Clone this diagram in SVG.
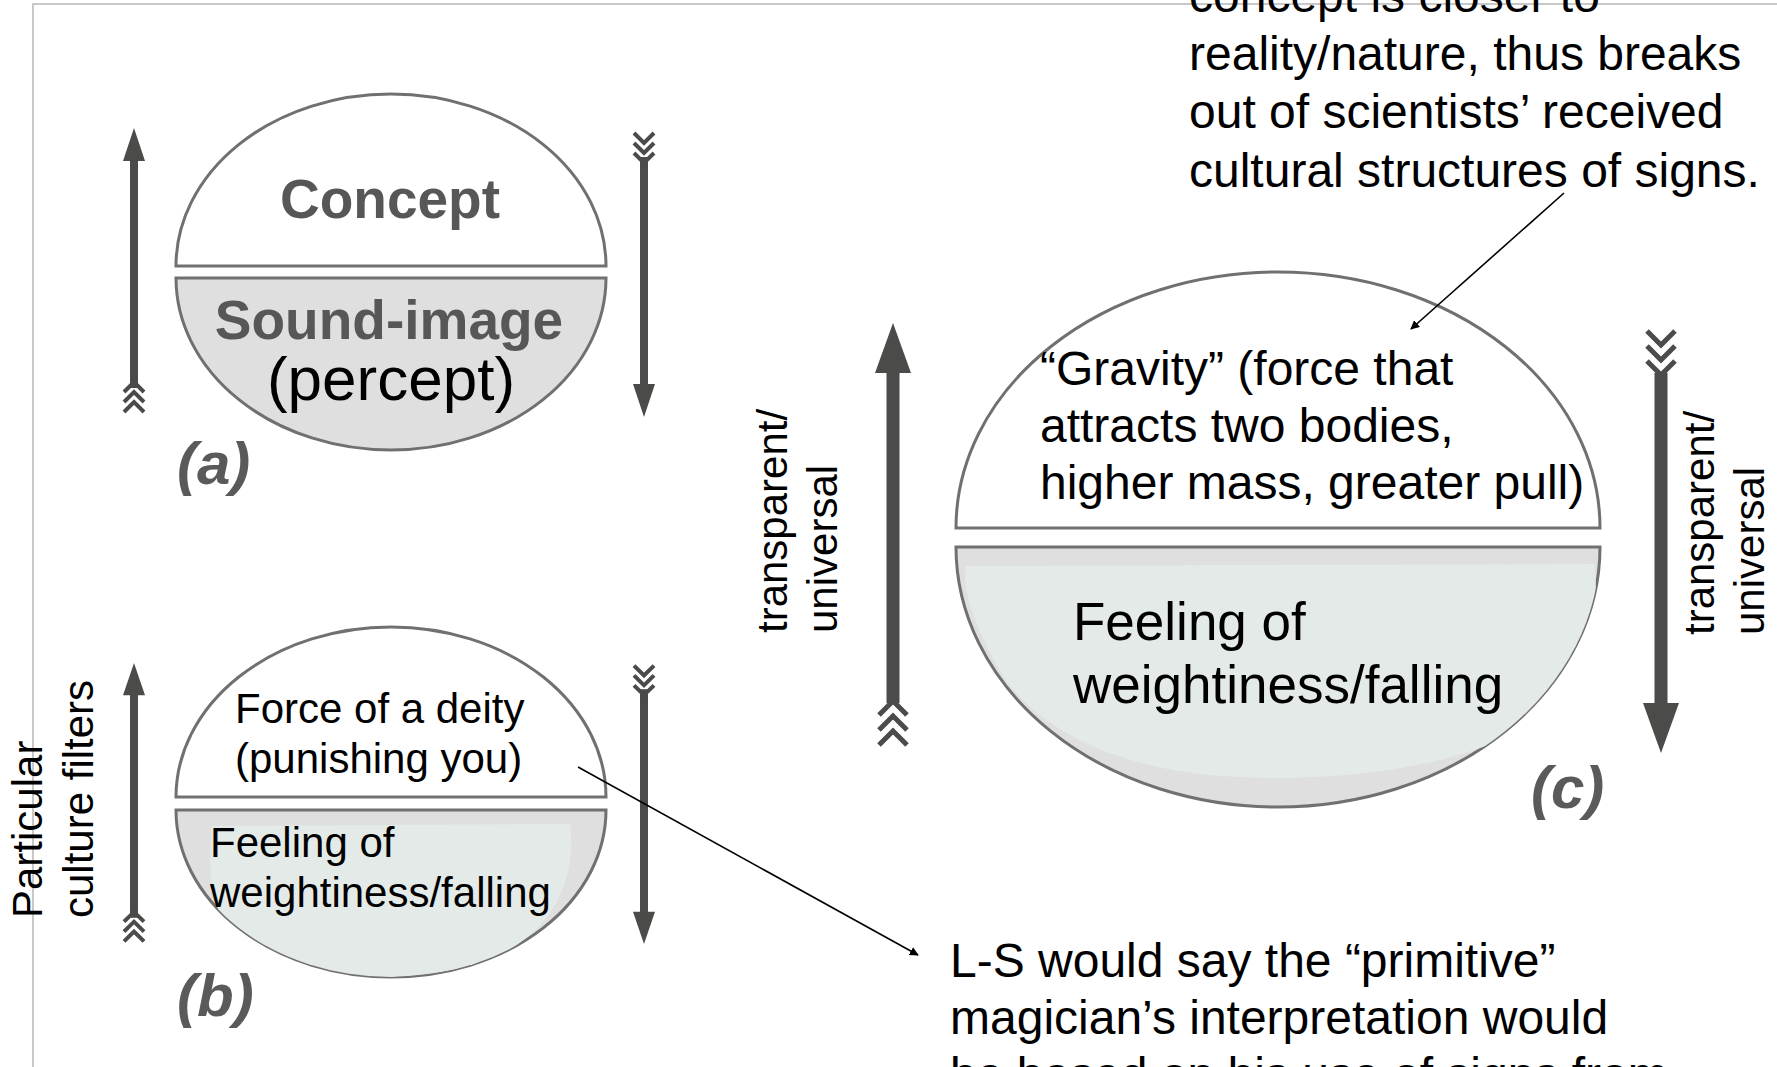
<svg xmlns="http://www.w3.org/2000/svg" xmlns:xlink="http://www.w3.org/1999/xlink" width="1777" height="1067" viewBox="0 0 1777 1067">
<style>
  text { font-family: "Liberation Sans", Arial, sans-serif; fill: #000; }
  .t42 { font-size: 42px; }
  .t48 { font-size: 48px; }
  .t53 { font-size: 53px; }
  .orig { font-weight: bold; fill: #575757; font-size: 55px; }
  .tag { font-weight: bold; font-style: italic; fill: #5a5a5a; font-size: 60px; }
  .upper { fill: #ffffff; stroke: #707070; stroke-width: 3; }
  .lower { fill: #dfdfdf; stroke: #707070; stroke-width: 3; }
  .blob { fill: #e3eae8; stroke: none; }
  .arw { fill: #4b4b49; }
  .fth { fill: none; stroke: #4b4b49; stroke-width: 4; }
  .fthL { fill: none; stroke: #4b4b49; stroke-width: 5; }
  .conn { stroke: #000; stroke-width: 1.6; fill: none; }
  .frame { stroke: #c8c8c8; stroke-width: 2; fill: none; }
</style>
<defs>
  <marker id="ah" viewBox="0 0 10 10" refX="9" refY="5" markerWidth="9" markerHeight="9" markerUnits="userSpaceOnUse" orient="auto">
    <path d="M0,0 L10,5 L0,10 Z" fill="#000"/>
  </marker>
  <g id="arrowS">
    <path class="arw" d="M0,0 L11,33 L-11,33 Z"/>
    <rect class="arw" x="-4" y="30" width="8" height="230"/>
    <path class="fth" d="M-10,264 L0,254 L10,264 M-10,274 L0,264 L10,274 M-10,284 L0,274 L10,284"/>
  </g>
  <g id="arrowL">
    <path class="arw" d="M0,0 L18,50 L-18,50 Z"/>
    <rect class="arw" x="-6.5" y="46" width="13" height="334"/>
    <path class="fthL" d="M-14,392 L0,378 L14,392 M-14,407 L0,393 L14,407 M-14,422 L0,408 L14,422"/>
  </g>
  <clipPath id="clipB"><path d="M176,810 L606,810 A215,167 0 0 1 176,810 Z"/></clipPath>
  <clipPath id="clipC"><path d="M956,547 L1600,547 A322,260 0 0 1 956,547 Z"/></clipPath>
</defs>

<g id="frame">
  <path class="frame" d="M33,1067 L33,4 L1777,4"/>
</g>

<g id="panel-a">
  <path class="upper" d="M176,266 A215,172 0 0 1 606,266 Z"/>
  <path class="lower" d="M176,278 L606,278 A215,172 0 0 1 176,278 Z"/>
  <text class="orig" x="390" y="218" text-anchor="middle">Concept</text>
  <text class="orig" x="389" y="339" text-anchor="middle">Sound-image</text>
  <text x="391" y="400" text-anchor="middle" style="font-size:62px">(percept)</text>
  <text class="tag" x="177" y="484">(a)</text>
  <use xlink:href="#arrowS" transform="translate(134,128)"/>
  <use xlink:href="#arrowS" transform="translate(644,417) rotate(180)"/>
</g>

<g id="panel-b">
  <path class="upper" d="M176,797 A215,170 0 0 1 606,797 Z"/>
  <path class="lower" d="M176,810 L606,810 A215,167 0 0 1 176,810 Z"/>
  <path class="blob" clip-path="url(#clipB)" d="M212,826 L570,824 C578,884 548,944 470,966 C400,984 300,982 248,952 C212,926 206,872 212,826 Z"/>
  <text class="t42" x="235" y="723">Force of a deity</text>
  <text class="t42" x="235" y="773">(punishing you)</text>
  <text class="t42" x="210" y="857">Feeling of</text>
  <text class="t42" x="210" y="907">weightiness/falling</text>
  <text class="tag" x="177" y="1016">(b)</text>
  <use xlink:href="#arrowS" transform="translate(134,663) scale(1,0.98)"/>
  <use xlink:href="#arrowS" transform="translate(644,944) rotate(180) scale(1,0.98)"/>
  <text class="t42" transform="translate(42,918) rotate(-90)">Particular</text>
  <text class="t42" transform="translate(93,918) rotate(-90)">culture filters</text>
</g>

<g id="panel-c">
  <path class="upper" d="M956,528 A322,256 0 0 1 1600,528 Z"/>
  <path class="lower" d="M956,547 L1600,547 A322,260 0 0 1 956,547 Z"/>
  <path class="blob" clip-path="url(#clipC)" d="M966,566 L1594,564 C1604,630 1574,700 1500,740 C1420,776 1290,784 1200,774 C1100,762 1030,722 998,668 C978,630 962,596 966,566 Z"/>
  <text class="t48" x="1040" y="385">“Gravity” (force that</text>
  <text class="t48" x="1040" y="442">attracts two bodies,</text>
  <text class="t48" x="1040" y="499">higher mass, greater pull)</text>
  <text class="t53" x="1073" y="640">Feeling of</text>
  <text class="t53" x="1073" y="703">weightiness/falling</text>
  <text class="tag" x="1531" y="808">(c)</text>
  <use xlink:href="#arrowL" transform="translate(893,323)"/>
  <use xlink:href="#arrowL" transform="translate(1661,753) rotate(180)"/>
  <text class="t42" transform="translate(787,633) rotate(-90)">transparent/</text>
  <text class="t42" transform="translate(837,633) rotate(-90)">universal</text>
  <text class="t42" transform="translate(1714,635) rotate(-90)">transparent/</text>
  <text class="t42" transform="translate(1764,635) rotate(-90)">universal</text>
</g>

<g id="note-top">
  <text class="t48" x="1189" y="12">concept is closer to</text>
  <text class="t48" x="1189" y="70">reality/nature, thus breaks</text>
  <text class="t48" x="1189" y="128">out of scientists’ received</text>
  <text class="t48" x="1189" y="187">cultural structures of signs.</text>
</g>

<g id="note-bottom">
  <text class="t48" x="950" y="977">L-S would say the “primitive”</text>
  <text class="t48" x="950" y="1034">magician’s interpretation would</text>
  <text class="t48" x="950" y="1091">be based on his use of signs from</text>
</g>

<g id="connectors">
  <line class="conn" x1="578" y1="767" x2="918" y2="955" marker-end="url(#ah)"/>
  <line class="conn" x1="1564" y1="193" x2="1411" y2="329" marker-end="url(#ah)"/>
</g>
</svg>
